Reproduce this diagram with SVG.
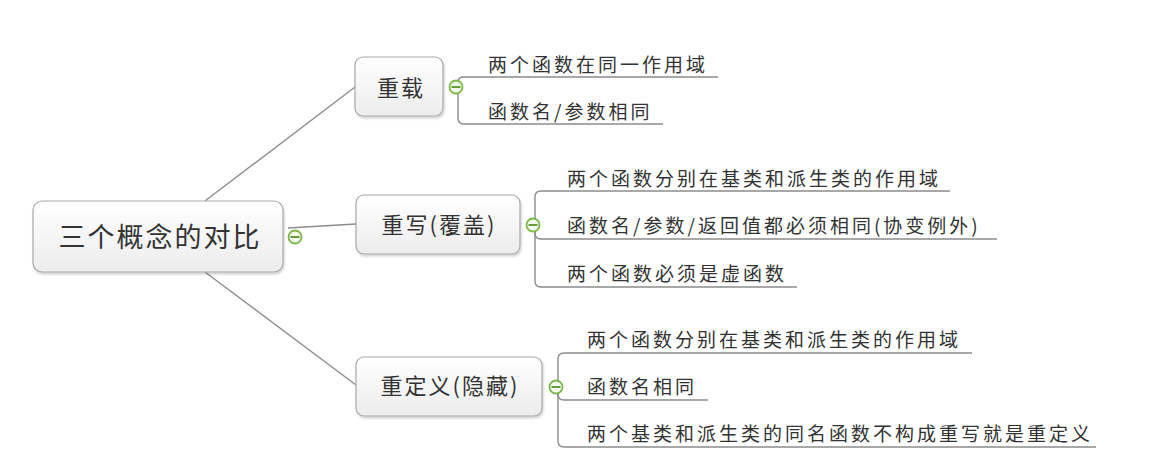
<svg xmlns="http://www.w3.org/2000/svg" width="1156" height="451" viewBox="0 0 1156 451">
<defs>
<linearGradient id="g" x1="0" y1="0" x2="0" y2="1">
<stop offset="0" stop-color="#ffffff"/>
<stop offset="1" stop-color="#ececec"/>
</linearGradient>
<filter id="sh" x="-10%" y="-10%" width="125%" height="135%">
<feDropShadow dx="1" dy="2" stdDeviation="1.2" flood-color="#000" flood-opacity="0.18"/>
</filter>
</defs>
<style>
.box{fill:url(#g);stroke:#a8a8a8;stroke-width:1.2;filter:url(#sh)}
.lbl{font-family:"Noto Sans CJK SC","Liberation Sans",sans-serif;fill:#333;text-anchor:middle}
.leaf{font-family:"Noto Sans CJK SC","Liberation Sans",sans-serif;fill:#333;font-size:19px;letter-spacing:3px}
.ln{fill:none;stroke:#8c8c8c;stroke-width:1.4}
.tg circle{fill:#f4fbef;stroke:#7ab648;stroke-width:1.8}
.tg line{stroke:#6a9a3e;stroke-width:2}
</style>
<rect width="1156" height="451" fill="#ffffff"/>
<g id="connectors">
<path class="ln" d="M205,201 L355,87"/>
<path class="ln" d="M288,228 L356,224"/>
<path class="ln" d="M205,272 L356,385"/>
<path class="ln" d="M458,87 V82 Q458,77 464,77 H718"/>
<path class="ln" d="M458,87 V118 Q458,124 464,124 H663"/>
<path class="ln" d="M535,225 V197 Q535,191 541,191 H950"/>
<path class="ln" d="M535,225 V233 Q535,239 541,239 H997"/>
<path class="ln" d="M535,225 V281 Q535,287 541,287 H797"/>
<path class="ln" d="M558,387 V359 Q558,353 564,353 H972"/>
<path class="ln" d="M558,387 V394 Q558,400 564,400 H708"/>
<path class="ln" d="M558,387 V441 Q558,447 564,447 H1096"/>
</g>
<g id="root">
<rect class="box" x="33" y="201" width="250" height="71" rx="9"/>
<text class="lbl" x="160" y="247" font-size="27" letter-spacing="2" fill="#444">三个概念的对比</text>
<g class="tg"><circle cx="295" cy="237" r="6.5"/><line x1="290.5" y1="237" x2="299.5" y2="237"/></g>
</g>
<g id="n-chongzai">
<rect class="box" x="355" y="57" width="88" height="59" rx="8"/>
<text class="lbl" x="401" y="96" font-size="22" letter-spacing="2">重载</text>
<g class="tg"><circle cx="456" cy="87" r="6.5"/><line x1="451.5" y1="87" x2="460.5" y2="87"/></g>
</g>
<g id="n-chongxie">
<rect class="box" x="356" y="195" width="164" height="59" rx="8"/>
<text class="lbl" x="439" y="233" font-size="22" letter-spacing="2">重写(覆盖)</text>
<g class="tg"><circle cx="533" cy="225" r="6.5"/><line x1="528.5" y1="225" x2="537.5" y2="225"/></g>
</g>
<g id="n-chongdingyi">
<rect class="box" x="356" y="357" width="186" height="59" rx="8"/>
<text class="lbl" x="450" y="394" font-size="22" letter-spacing="2">重定义(隐藏)</text>
<g class="tg"><circle cx="556" cy="387" r="6.5"/><line x1="551.5" y1="387" x2="560.5" y2="387"/></g>
</g>
<g id="leaf-1"><text class="leaf" x="488" y="72">两个函数在同一作用域</text></g>
<g id="leaf-2"><text class="leaf" x="488" y="119">函数名/参数相同</text></g>
<g id="leaf-3"><text class="leaf" x="567" y="186">两个函数分别在基类和派生类的作用域</text></g>
<g id="leaf-4"><text class="leaf" x="567" y="233">函数名/参数/返回值都必须相同(协变例外)</text></g>
<g id="leaf-5"><text class="leaf" x="567" y="281">两个函数必须是虚函数</text></g>
<g id="leaf-6"><text class="leaf" x="587" y="347">两个函数分别在基类和派生类的作用域</text></g>
<g id="leaf-7"><text class="leaf" x="587" y="394">函数名相同</text></g>
<g id="leaf-8"><text class="leaf" x="587" y="441">两个基类和派生类的同名函数不构成重写就是重定义</text></g>
</svg>
